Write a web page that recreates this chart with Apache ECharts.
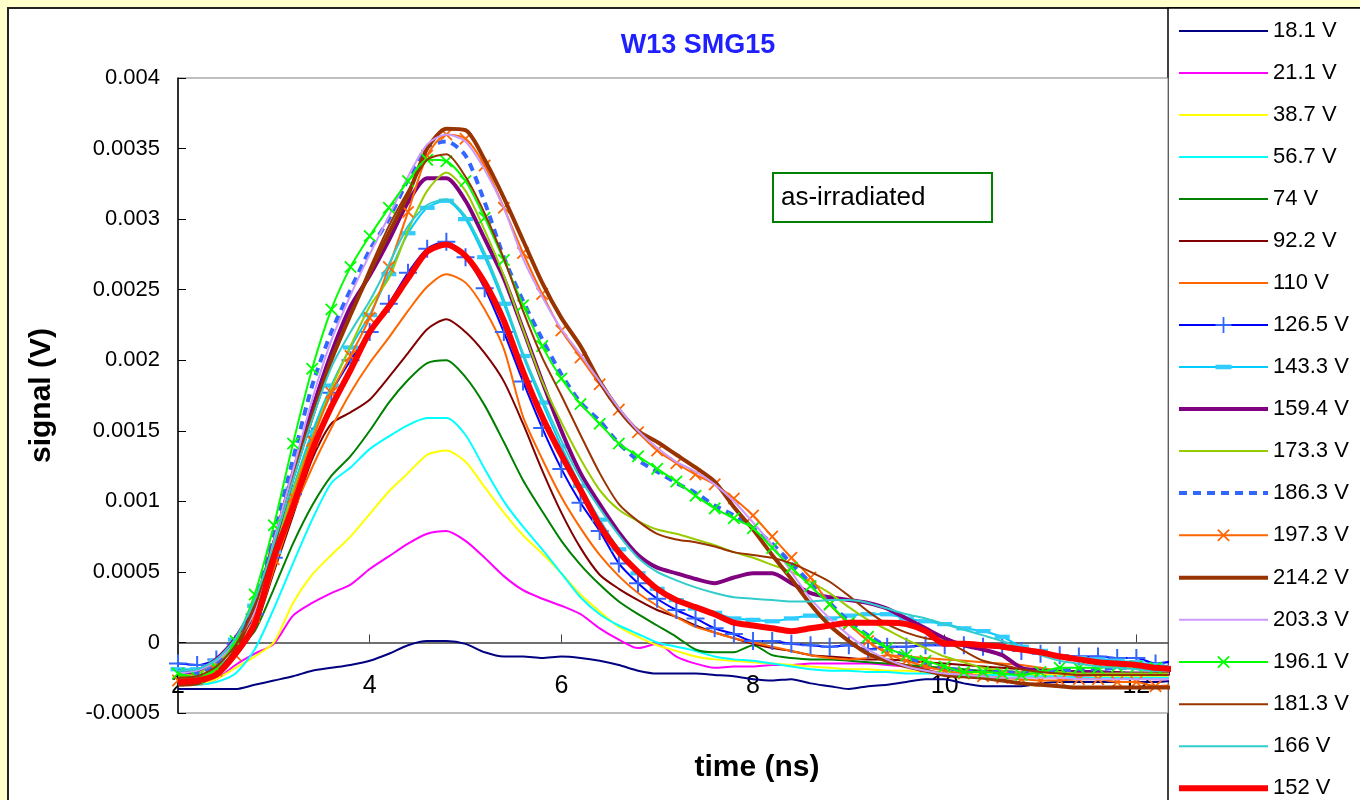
<!DOCTYPE html>
<html>
<head>
<meta charset="utf-8">
<title>W13 SMG15</title>
<script src="https://cdn.jsdelivr.net/npm/echarts@6/dist/echarts.min.js"></script>
<style>
    html, body { margin: 0; padding: 0; background: #FFFFCC; }
    #chartId { width: 1360px; height: 800px; }
</style>
</head>
<body>
<div id="chartId"></div>
<script>
// time (ns), one sample every 0.2 ns
const time = [
    2.0, 2.2, 2.4, 2.6, 2.8, 3.0, 3.2, 3.4, 3.6, 3.8,
    4.0, 4.2, 4.4, 4.6, 4.8, 5.0, 5.2, 5.4, 5.6, 5.8,
    6.0, 6.2, 6.4, 6.6, 6.8, 7.0, 7.2, 7.4, 7.6, 7.8,
    8.0, 8.2, 8.4, 8.6, 8.8, 9.0, 9.2, 9.4, 9.6, 9.8,
    10.0, 10.2, 10.4, 10.6, 10.8, 11.0, 11.2, 11.4, 11.6, 11.8,
    12.0, 12.2, 12.4
];

// signal values in mV
const v18_1 = [
    -0.33,-0.33,-0.33,-0.33,-0.30,-0.27,-0.24,-0.20,-0.18,-0.16,
    -0.13,-0.08,-0.02,0.01,0.01,-0.01,-0.07,-0.10,-0.10,-0.11,
    -0.10,-0.11,-0.13,-0.16,-0.20,-0.22,-0.22,-0.22,-0.23,-0.24,
    -0.26,-0.27,-0.26,-0.29,-0.31,-0.33,-0.31,-0.30,-0.28,-0.26,
    -0.26,-0.29,-0.31,-0.31,-0.31,-0.29,-0.28,-0.28,-0.28,-0.28,
    -0.28,-0.28,-0.27
];
const v21_1 = [
    -0.30,-0.30,-0.26,-0.16,-0.08,-0.01,0.19,0.28,0.35,0.41,
    0.52,0.61,0.70,0.77,0.79,0.72,0.60,0.47,0.37,0.31,
    0.26,0.20,0.10,0.02,-0.04,-0.01,-0.10,-0.15,-0.18,-0.17,
    -0.17,-0.16,-0.16,-0.15,-0.15,-0.15,-0.15,-0.16,-0.17,-0.18,
    -0.19,-0.20,-0.21,-0.22,-0.22,-0.23,-0.23,-0.24,-0.24,-0.25,
    -0.25,-0.26,-0.26
];
const v38_7 = [
    -0.30,-0.30,-0.26,-0.18,-0.10,0.00,0.28,0.48,0.62,0.75,
    0.91,1.07,1.20,1.33,1.36,1.28,1.10,0.92,0.76,0.63,
    0.49,0.34,0.22,0.11,0.04,-0.02,-0.06,-0.10,-0.12,-0.13,
    -0.14,-0.15,-0.16,-0.17,-0.18,-0.19,-0.19,-0.20,-0.20,-0.21,
    -0.21,-0.22,-0.22,-0.22,-0.23,-0.23,-0.23,-0.23,-0.24,-0.24,
    -0.24,-0.24,-0.24
];
const v56_7 = [
    -0.30,-0.30,-0.28,-0.22,-0.05,0.24,0.56,0.87,1.13,1.24,
    1.37,1.46,1.54,1.59,1.59,1.47,1.23,1.00,0.82,0.66,
    0.49,0.32,0.20,0.12,0.06,0.00,-0.03,-0.06,-0.10,-0.12,
    -0.13,-0.15,-0.17,-0.19,-0.20,-0.20,-0.21,-0.21,-0.22,-0.22,
    -0.22,-0.23,-0.23,-0.23,-0.24,-0.24,-0.24,-0.25,-0.25,-0.25,
    -0.25,-0.25,-0.25
];
const v74 = [
    -0.27,-0.26,-0.20,-0.06,0.08,0.38,0.70,0.97,1.18,1.32,
    1.50,1.70,1.86,1.98,2.00,1.88,1.68,1.42,1.15,0.93,
    0.72,0.55,0.41,0.29,0.20,0.12,0.04,-0.05,-0.07,-0.07,
    -0.02,-0.09,-0.11,-0.12,-0.12,-0.13,-0.14,-0.15,-0.16,-0.17,
    -0.18,-0.19,-0.20,-0.20,-0.21,-0.21,-0.21,-0.22,-0.22,-0.22,
    -0.22,-0.22,-0.22
];
const v92_2 = [
    -0.28,-0.27,-0.22,-0.10,0.10,0.50,0.90,1.30,1.55,1.63,
    1.72,1.88,2.05,2.22,2.29,2.20,2.05,1.85,1.55,1.22,
    0.92,0.67,0.48,0.38,0.30,0.23,0.18,0.12,0.07,0.03,
    -0.01,-0.04,-0.06,-0.09,-0.10,-0.11,-0.12,-0.12,-0.13,-0.14,
    -0.15,-0.16,-0.17,-0.18,-0.19,-0.20,-0.20,-0.21,-0.21,-0.21,
    -0.22,-0.22,-0.22
];
const v110 = [
    -0.26,-0.25,-0.20,-0.08,0.11,0.52,0.92,1.24,1.52,1.77,
    1.98,2.16,2.35,2.52,2.61,2.55,2.36,2.08,1.60,1.30,
    1.03,0.81,0.62,0.47,0.35,0.26,0.18,0.11,0.07,0.03,
    0.00,-0.03,-0.06,-0.09,-0.11,-0.12,-0.11,-0.09,-0.10,-0.11,
    -0.12,-0.13,-0.14,-0.15,-0.16,-0.18,-0.20,-0.21,-0.22,-0.22,
    -0.23,-0.23,-0.23
];
const v126_5 = [
    -0.15,-0.16,-0.12,-0.01,0.20,0.60,1.05,1.46,1.77,2.00,
    2.20,2.40,2.62,2.79,2.84,2.73,2.51,2.20,1.85,1.52,
    1.23,0.99,0.79,0.56,0.42,0.31,0.23,0.17,0.10,0.06,
    0.01,0.01,-0.01,-0.02,-0.03,-0.02,-0.05,-0.03,-0.03,-0.02,
    -0.02,-0.02,-0.03,-0.04,-0.06,-0.08,-0.09,-0.10,-0.10,-0.11,
    -0.11,-0.15,-0.13
];
const v143_3 = [
    -0.19,-0.19,-0.13,0.02,0.26,0.64,1.09,1.49,1.82,2.09,
    2.32,2.61,2.90,3.08,3.13,3.00,2.73,2.40,2.03,1.70,
    1.39,1.11,0.87,0.66,0.49,0.38,0.30,0.24,0.21,0.17,
    0.16,0.15,0.17,0.19,0.17,0.19,0.20,0.20,0.17,0.15,
    0.13,0.10,0.08,0.04,-0.03,-0.06,-0.10,-0.11,-0.12,-0.13,
    -0.14,-0.16,-0.17
];
const v159_4 = [
    -0.22,-0.20,-0.12,0.03,0.27,0.70,1.20,1.65,2.05,2.38,
    2.60,2.85,3.12,3.29,3.29,3.13,2.86,2.58,2.22,1.85,
    1.50,1.20,0.98,0.78,0.62,0.53,0.49,0.45,0.42,0.46,
    0.49,0.49,0.42,0.35,0.32,0.30,0.28,0.24,0.17,0.10,
    0.03,-0.02,-0.05,-0.09,-0.18,-0.20,-0.21,-0.21,-0.21,-0.22,
    -0.22,-0.22,-0.22
];
const v173_3 = [
    -0.24,-0.22,-0.15,0.00,0.22,0.62,1.07,1.45,1.80,2.10,
    2.38,2.58,2.92,3.20,3.33,3.20,2.92,2.60,2.22,1.85,
    1.56,1.30,1.08,0.94,0.86,0.80,0.77,0.73,0.69,0.64,
    0.60,0.55,0.50,0.43,0.35,0.25,0.16,0.09,0.02,-0.04,
    -0.10,-0.14,-0.18,-0.20,-0.21,-0.21,-0.21,-0.22,-0.22,-0.22,
    -0.22,-0.22,-0.22
];
const v186_3 = [
    -0.20,-0.22,-0.16,0.00,0.28,0.76,1.30,1.82,2.20,2.50,
    2.78,3.00,3.28,3.51,3.55,3.45,3.12,2.73,2.42,2.15,
    1.90,1.70,1.57,1.41,1.29,1.21,1.13,1.06,0.97,0.90,
    0.81,0.70,0.56,0.42,0.28,0.15,0.05,-0.03,-0.10,-0.15,
    -0.18,-0.20,-0.21,-0.21,-0.22,-0.21,-0.20,-0.19,-0.19,-0.18,
    -0.18,-0.18,-0.18
];
const v197_3 = [
    -0.27,-0.26,-0.20,-0.09,0.18,0.59,1.03,1.43,1.77,2.03,
    2.30,2.66,3.05,3.45,3.60,3.57,3.38,3.08,2.76,2.47,
    2.21,2.02,1.83,1.65,1.49,1.36,1.27,1.19,1.12,1.02,
    0.90,0.75,0.60,0.46,0.27,0.13,0.01,-0.08,-0.13,-0.17,
    -0.20,-0.22,-0.24,-0.25,-0.26,-0.27,-0.27,-0.26,-0.26,-0.28,
    -0.28,-0.31,-0.30
];
const v214_2 = [
    -0.30,-0.29,-0.22,-0.05,0.25,0.70,1.18,1.60,2.00,2.32,
    2.62,2.90,3.17,3.50,3.64,3.63,3.42,3.15,2.85,2.55,
    2.30,2.10,1.85,1.65,1.50,1.42,1.33,1.24,1.14,0.96,
    0.80,0.62,0.45,0.27,0.12,0.01,-0.08,-0.13,-0.17,-0.20,
    -0.23,-0.24,-0.25,-0.27,-0.29,-0.30,-0.31,-0.32,-0.32,-0.32,
    -0.32,-0.32,-0.32
];
const v203_3 = [
    -0.22,-0.20,-0.13,0.00,0.22,0.72,1.22,1.72,2.14,2.46,
    2.75,3.02,3.30,3.53,3.60,3.55,3.35,3.08,2.72,2.45,
    2.22,2.04,1.85,1.66,1.50,1.38,1.28,1.21,1.12,1.00,
    0.85,0.69,0.50,0.31,0.17,0.05,-0.05,-0.12,-0.17,-0.20,
    -0.22,-0.23,-0.24,-0.25,-0.25,-0.25,-0.25,-0.26,-0.26,-0.26,
    -0.26,-0.26,-0.26
];
const v196_1 = [
    -0.22,-0.25,-0.18,0.01,0.34,0.83,1.41,1.94,2.36,2.66,
    2.88,3.08,3.27,3.42,3.41,3.27,3.01,2.71,2.39,2.10,
    1.87,1.69,1.55,1.41,1.32,1.23,1.14,1.04,0.95,0.88,
    0.81,0.67,0.53,0.40,0.27,0.14,0.04,-0.04,-0.09,-0.13,
    -0.17,-0.21,-0.21,-0.22,-0.23,-0.21,-0.18,-0.18,-0.18,-0.17,
    -0.17,-0.18,-0.19
];
const v181_3 = [
    -0.25,-0.24,-0.17,-0.02,0.25,0.68,1.15,1.60,2.02,2.33,
    2.65,2.95,3.20,3.42,3.46,3.30,3.04,2.72,2.35,2.02,
    1.75,1.47,1.20,0.98,0.86,0.77,0.73,0.71,0.68,0.64,
    0.62,0.60,0.56,0.50,0.43,0.33,0.22,0.13,0.07,0.03,
    0.01,-0.06,-0.13,-0.16,-0.19,-0.21,-0.22,-0.23,-0.23,-0.23,
    -0.23,-0.23,-0.23
];
const v166 = [
    -0.20,-0.19,-0.12,0.03,0.30,0.70,1.15,1.58,1.95,2.20,
    2.42,2.68,2.95,3.10,3.14,3.02,2.76,2.43,2.05,1.73,
    1.43,1.16,0.95,0.76,0.60,0.50,0.44,0.39,0.35,0.32,
    0.31,0.30,0.29,0.29,0.30,0.30,0.28,0.24,0.20,0.17,
    0.13,0.09,0.05,0.01,-0.04,-0.09,-0.13,-0.15,-0.17,-0.18,
    -0.19,-0.20,-0.20
];
const v152 = [
    -0.28,-0.27,-0.23,-0.08,0.13,0.60,0.96,1.36,1.67,1.93,
    2.20,2.38,2.58,2.77,2.82,2.74,2.55,2.28,1.92,1.60,
    1.33,1.08,0.83,0.64,0.50,0.38,0.30,0.25,0.20,0.14,
    0.12,0.10,0.08,0.10,0.12,0.14,0.14,0.14,0.13,0.08,
    -0.01,-0.01,-0.02,-0.03,-0.05,-0.07,-0.10,-0.12,-0.14,-0.15,
    -0.16,-0.18,-0.19
];

// legend order = drawing order
const names = ['18.1 V','21.1 V','38.7 V','56.7 V','74 V','92.2 V','110 V','126.5 V','143.3 V',
    '159.4 V','173.3 V','186.3 V','197.3 V','214.2 V','203.3 V','196.1 V','181.3 V','166 V','152 V'];
const values = [v18_1, v21_1, v38_7, v56_7, v74, v92_2, v110, v126_5, v143_3,
    v159_4, v173_3, v186_3, v197_3, v214_2, v203_3, v196_1, v181_3, v166, v152];

// y tick labels
const yTicks = ['-0.0005','0','0.0005','0.001','0.0015','0.002','0.0025','0.003','0.0035','0.004'];

// marker shapes
const plus = 'path://M0,8h18v2h-18z M8,0h2v18h-2z';
const dash = 'path://M0,0M0,5h14v4h-14zM14,14';

const styles = [
    {color: '#000080', width: 2},
    {color: '#FF00FF', width: 2},
    {color: '#FFFF00', width: 2},
    {color: '#00FFFF', width: 2},
    {color: '#008000', width: 2},
    {color: '#800000', width: 2},
    {color: '#FF6600', width: 2},
    {color: '#0000FF', width: 2, symbol: plus, size: 18, mark: '#3366FF'},
    {color: '#00CCFF', width: 2, symbol: dash, size: 15, mark: '#33CCFF'},
    {color: '#800080', width: 4},
    {color: '#99CC00', width: 2},
    {color: '#3366FF', width: 4, type: [8, 6]},
    {color: '#FF6600', width: 2, symbol: plus, size: 16, rotate: 45},
    {color: '#993300', width: 4},
    {color: '#CC99FF', width: 2},
    {color: '#00FF00', width: 2, symbol: plus, size: 16, rotate: 45},
    {color: '#993300', width: 2},
    {color: '#33CCCC', width: 2},
    {color: '#FF0000', width: 6}
];

const FONT = 'Liberation Sans, Arial, sans-serif';

let seriesArr = [];
let legendData = [];
for (let i = 0; i < names.length; i++) {
    let s = styles[i];
    seriesArr.push({
        name: names[i],
        type: 'line',
        data: time.map((t, k) => [t, values[i][k] / 1000]),   // mV -> V
        smooth: 0.25,
        showSymbol: !!s.symbol,
        symbol: s.symbol || 'circle',
        symbolSize: s.size || 1,
        symbolRotate: s.rotate || 0,
        lineStyle: {color: s.color, width: s.width, type: s.type || 'solid'},
        // plain lines get a see-through symbol so the legend shows only the line
        itemStyle: {color: s.symbol ? (s.mark || s.color) : 'rgba(0,0,0,0)'},
        emphasis: {disabled: true},
        z: 2 + i * 0.01
    });
    // legend keeps the real line width (default would cap it at 2)
    legendData.push({
        name: names[i],
        lineStyle: {width: s.width, type: s.type || 'solid', color: s.color}
    });
}

var chart = echarts.init(document.getElementById('chartId'));
var option = {
    backgroundColor: '#FFFFCC',
    animation: false,
    textStyle: {fontFamily: FONT},
    title: {
        text: 'W13 SMG15',
        left: 693,
        top: 27,
        textAlign: 'center',
        textStyle: {color: '#1F1FFF', fontSize: 27, fontWeight: 'bold', fontFamily: FONT}
    },
    grid: {
        left: 178, top: 78, right: 192, bottom: 87,
        show: true,
        backgroundColor: '#ffffff',
        borderColor: '#808080',
        borderWidth: 1
    },
    legend: {
        orient: 'vertical',
        left: 1176,
        top: 20,
        height: 785,
        padding: 0,
        itemWidth: 89,
        itemHeight: 20,
        itemGap: 20,
        data: legendData,
        textStyle: {fontSize: 22, lineHeight: 22, color: '#000', fontFamily: FONT}
    },
    xAxis: {
        type: 'value',
        min: 2,
        max: 12.33,
        interval: 2,
        // axis drawn at signal = 0 : one y step (0.0005 of 0.0045) above the bottom
        offset: -635 / 9,
        axisLine: {onZero: false, lineStyle: {color: '#404040', width: 1.5}},
        axisTick: {inside: true, length: 8, lineStyle: {color: '#404040'}},
        axisLabel: {
            fontSize: 25, color: '#000', margin: 31, showMaxLabel: false,
            formatter: v => String(Math.round(v))
        },
        splitLine: {show: false}
    },
    yAxis: {
        type: 'value',
        min: -0.0005,
        max: 0.004,
        interval: 0.0005,
        name: 'signal (V)',
        nameLocation: 'middle',
        nameGap: 121,
        nameTextStyle: {fontSize: 30, fontWeight: 'bold', color: '#000', fontFamily: FONT},
        axisLine: {show: true, lineStyle: {color: '#000', width: 1.5}},
        axisTick: {inside: true, length: 8, lineStyle: {color: '#000'}},
        axisLabel: {
            fontSize: 22, color: '#000', margin: 18,
            formatter: v => yTicks[Math.round(v / 0.0005) + 1]
        },
        splitLine: {show: false}
    },
    graphic: [
        {type: 'rect', z: -10, shape: {x: 8, y: 8, width: 1400, height: 850},
            style: {fill: '#ffffff', stroke: '#222', lineWidth: 2}},
        {type: 'rect', z: -9, shape: {x: 1168, y: 8, width: 250, height: 850},
            style: {fill: '#ffffff', stroke: '#000', lineWidth: 1.5}},
        {type: 'rect', z: 10, shape: {x: 773, y: 173, width: 219, height: 49},
            style: {fill: '#ffffff', stroke: '#008000', lineWidth: 2}},
        {type: 'text', z: 11, x: 781, y: 198,
            style: {text: 'as-irradiated', fill: '#000', font: '26px ' + FONT, textVerticalAlign: 'middle'}},
        {type: 'text', z: 11, x: 757, y: 768,
            style: {text: 'time (ns)', fill: '#000', font: 'bold 30px ' + FONT,
                textAlign: 'center', textVerticalAlign: 'middle'}}
    ],
    series: seriesArr
};
chart.setOption(option);
</script>
</body>
</html>
